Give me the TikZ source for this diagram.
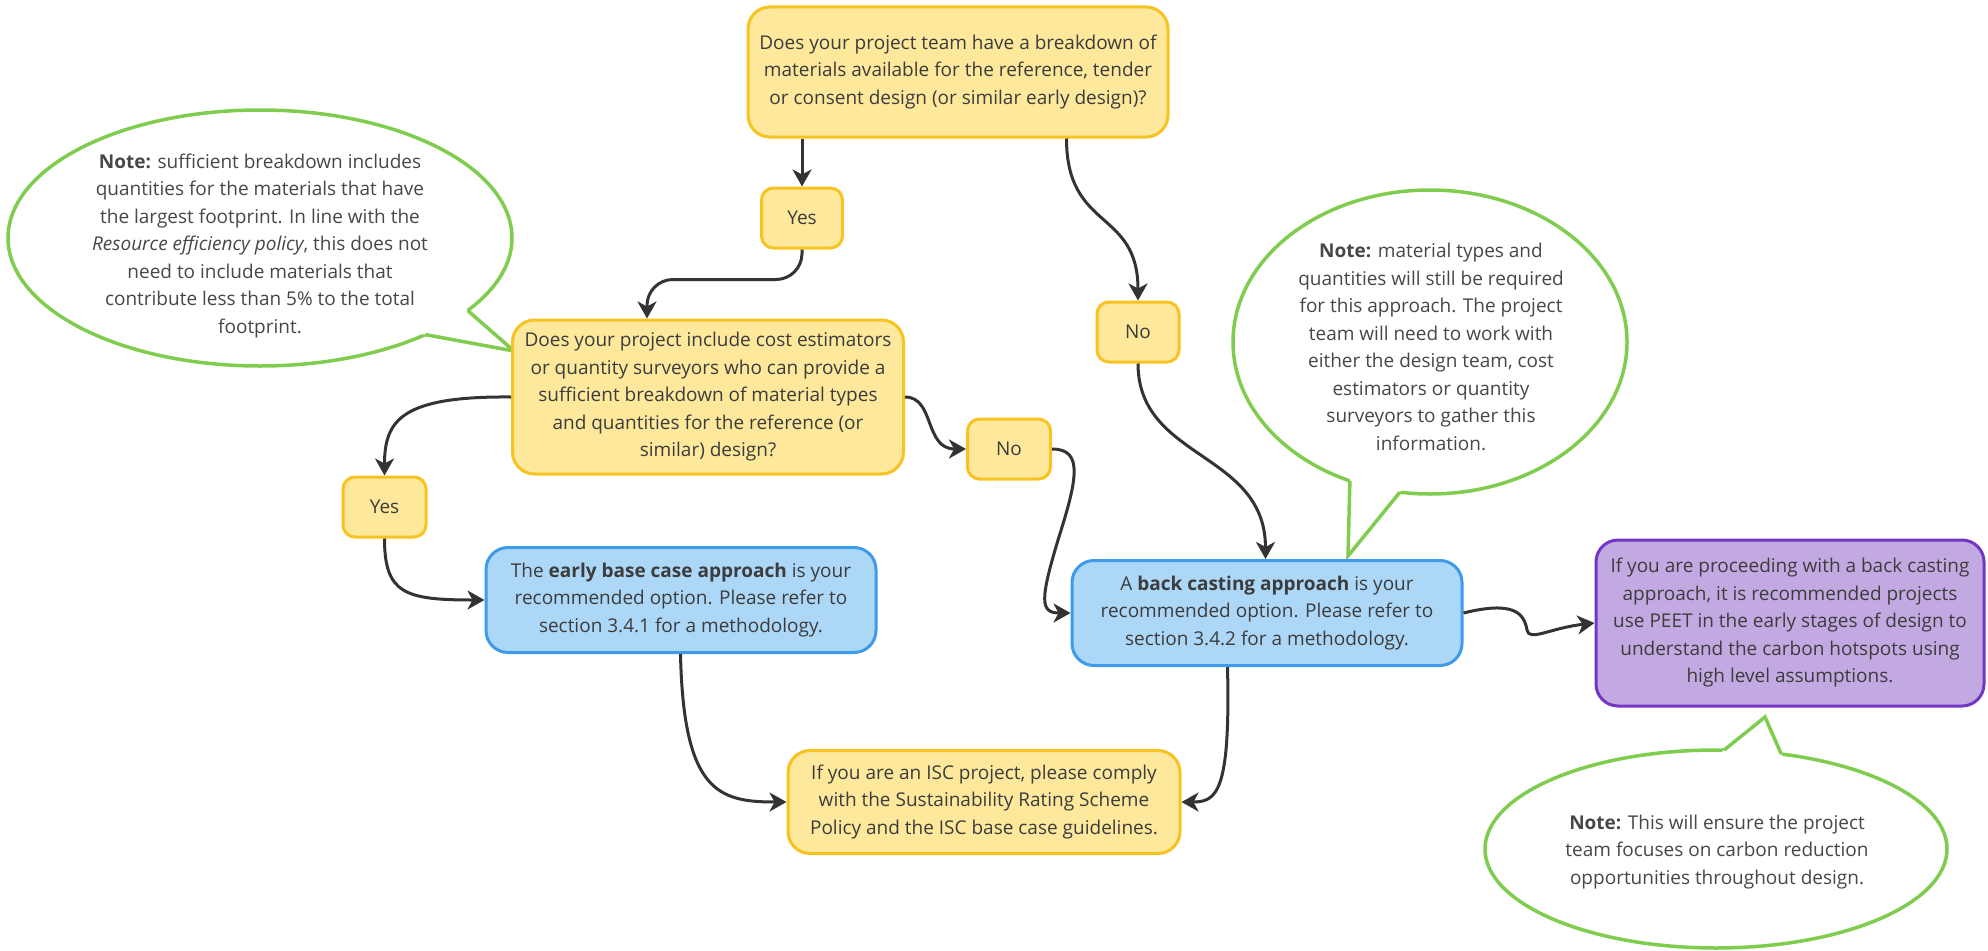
\documentclass[tikz,border=0pt]{standalone}
\usepackage{fontspec}
\setmainfont{Open Sans}
\usetikzlibrary{arrows.meta,calc}
\definecolor{yfill}{HTML}{FDE89C}
\definecolor{yline}{HTML}{F6C321}
\definecolor{bfill}{HTML}{ACD7F7}
\definecolor{bline}{HTML}{3D9BE9}
\definecolor{pfill}{HTML}{C3A9E1}
\definecolor{pline}{HTML}{7436C4}
\definecolor{gline}{HTML}{80CC4E}
\definecolor{arrc}{HTML}{333333}
\definecolor{txt}{HTML}{3C3C3C}
\definecolor{ntxt}{HTML}{474747}
\begin{document}
\begin{tikzpicture}[x=1pt,y=-1pt,
  box/.style={draw, line width=3pt, rounded corners=22pt, align=center,
    font=\fontsize{19}{27.5}\selectfont, text=txt, inner sep=0pt},
  ybox/.style={box, draw=yline, fill=yfill},
  bbox/.style={box, draw=bline, fill=bfill},
  pbox/.style={box, draw=pline, fill=pfill},
  yn/.style={ybox, rounded corners=12pt},
  arr/.style={draw=arrc, line width=3pt, -{Stealth[length=17pt,width=19pt,inset=5pt]}},
  notetext/.style={align=center, font=\fontsize{19}{27.5}\selectfont, text=ntxt},
  bub/.style={draw=gline, line width=3.5pt, fill=white},
  bubline/.style={draw=gline, line width=3.5pt, line join=miter}
]
\useasboundingbox (0,0) rectangle (1988,950);

% ---- speech bubbles ----
% note 1
\coordinate (n1c) at (260,238);
\coordinate (n1a) at ($(n1c)+({252*cos(34.5)},{128*sin(34.5)})$);
\coordinate (n1b) at ($(n1c)+({252*cos(49)},{128*sin(49)})$);
\coordinate (n1t) at (514,351);
\draw[bub] (n1c) ellipse [x radius=252pt, y radius=128pt];
\fill[white] ($(n1t)!1.3!(n1a)$) -- (n1t) -- ($(n1t)!1.3!(n1b)$) -- cycle;
\draw[bubline] (n1a) -- (n1t) -- (n1b);
\node[notetext] (note1) at (260,246) {\textbf{Note:} sufficient breakdown includes\\ quantities for the materials that have\\ the largest footprint. In line with the\\ \textit{Resource efficiency policy}, this does not\\ need to include materials that\\ contribute less than 5\% to the total\\ footprint.};

% note 2
\coordinate (n2c) at (1430,342);
\coordinate (n2a) at ($(n2c)+({197*cos(114)},{152*sin(114)})$);
\coordinate (n2b) at ($(n2c)+({197*cos(98.8)},{152*sin(98.8)})$);
\coordinate (n2t) at (1348,556);
\draw[bub] (n2c) ellipse [x radius=197pt, y radius=152pt];
\fill[white] ($(n2t)!1.3!(n2a)$) -- (n2t) -- ($(n2t)!1.3!(n2b)$) -- cycle;
\draw[bubline] (n2a) -- (n2t) -- (n2b);
\node[notetext] (note2) at (1431,347) {\textbf{Note:} material types and\\ quantities will still be required\\ for this approach. The project\\ team will need to work with\\ either the design team, cost\\ estimators or quantity\\ surveyors to gather this\\ information.};

% note 3
\coordinate (n3c) at (1716,849);
\coordinate (n3a) at ($(n3c)+({231*cos(-88)},{99*sin(-88)})$);
\coordinate (n3b) at ($(n3c)+({231*cos(-73.6)},{99*sin(-73.6)})$);
\coordinate (n3t) at (1765,717);
\draw[bub] (n3c) ellipse [x radius=231pt, y radius=99pt];
\fill[white] ($(n3t)!1.4!(n3a)$) -- (n3t) -- ($(n3t)!1.4!(n3b)$) -- cycle;
\draw[bubline] (n3a) -- (n3t) -- (n3b);
\node[notetext] (note3) at (1717,852) {\textbf{Note:} This will ensure the project\\ team focuses on carbon reduction\\ opportunities throughout design.};

% ---- boxes ----
\node[ybox, minimum width=420pt, minimum height=130pt] (top) at (958,72)
  {Does your project team have a breakdown of\\ materials available for the reference, tender\\ or consent design (or similar early design)?};
\node[yn, minimum width=81pt, minimum height=60pt] (yes1) at (802,218) {Yes};
\node[ybox, minimum width=391pt, minimum height=154pt] (q2) at (708,397)
  {Does your project include cost estimators\\ or quantity surveyors who can provide a\\ sufficient breakdown of material types\\ and quantities for the reference (or\\ similar) design?};
\node[yn, minimum width=83pt, minimum height=60pt] (yes2) at (384.5,507) {Yes};
\node[bbox, minimum width=390pt, minimum height=105pt] (early) at (681,600)
  {The \textbf{early base case approach} is your\\ recommended option. Please refer to\\ section 3.4.1 for a methodology.};
\node[yn, minimum width=82pt, minimum height=60pt] (no1) at (1138,332) {No};
\node[yn, minimum width=83pt, minimum height=60pt] (no2) at (1009,449) {No};
\node[bbox, minimum width=390pt, minimum height=105pt] (back) at (1267,613)
  {A \textbf{back casting approach} is your\\ recommended option. Please refer to\\ section 3.4.2 for a methodology.};
\node[pbox, minimum width=388pt, minimum height=166pt] (purple) at (1790,623)
  {If you are proceeding with a back casting\\ approach, it is recommended projects\\ use PEET in the early stages of design to\\ understand the carbon hotspots using\\ high level assumptions.};
\node[ybox, minimum width=392pt, minimum height=103pt] (isc) at (984,802)
  {If you are an ISC project, please comply\\ with the Sustainability Rating Scheme\\ Policy and the ISC base case guidelines.};

% ---- connectors ----
\draw[arr] (top.south -| yes1.north) -- (yes1.north);
\draw[arr] ($(top.south west)+(320,0)$) .. controls +(0,93) and +(0,-92) .. (no1.north);
\draw[arr, rounded corners=26pt] (yes1.south) -- ++(0,30) -| ($(q2.north west)+(136,0)$);
\draw[arr] (q2.west) .. controls +(-110,-1) and +(0,-55) .. (yes2.north);
\draw[arr] (q2.east) .. controls +(30,0) and +(-42,0) .. (no2.west);
\draw[arr] (yes2.south) .. controls +(0,55) and +(-80,0) .. (early.west);
\draw[arr] (no2.east) .. controls +(32,0) and (1077,480) .. (1058,540)
  .. controls (1040,600) and (1040,613) .. (back.west);
\draw[arr] (no1.south) .. controls +(0,97) and +(0,-108) .. ($(back.north west)+(195,0)$);
\draw[arr] (back.east) .. controls (1512,601) and (1524,612) .. (1527,630)
  .. controls (1529,642) and (1550,628) .. (purple.west);
\draw[arr] ($(early.south west)+(196,0)$) .. controls +(3,138) and +(-68,0) .. (isc.west);
\draw[arr] ($(back.south west)+(157,0)$) .. controls +(3,126) and +(35,0) .. (isc.east);
\end{tikzpicture}
\end{document}
